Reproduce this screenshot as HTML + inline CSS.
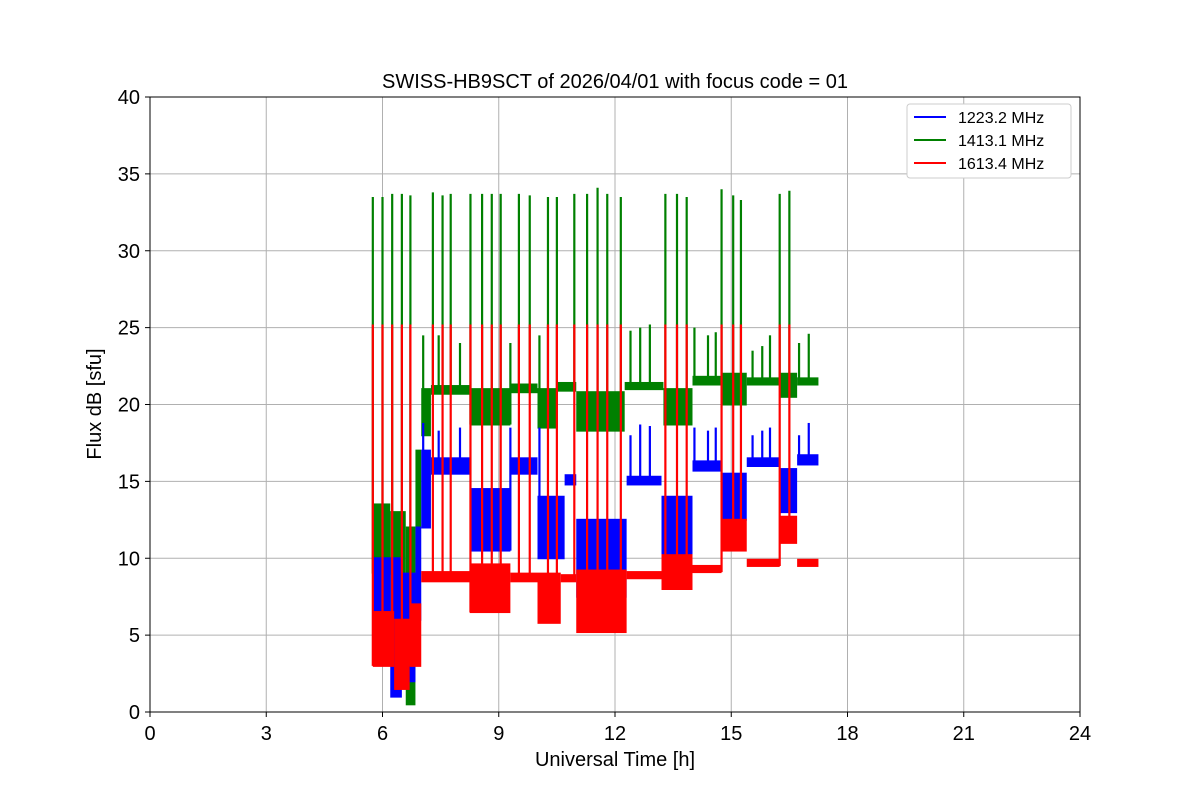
<!DOCTYPE html>
<html><head><meta charset="utf-8">
<style>
body{margin:0;background:#fff;}
svg{display:block;font-family:"Liberation Sans","DejaVu Sans",sans-serif;}
</style></head>
<body>
<svg id="chart" width="1200" height="800">
<rect width="1200" height="800" fill="#fff"/>
<text x="615" y="88" text-anchor="middle" font-size="20">SWISS-HB9SCT of 2026/04/01 with focus code = 01</text>
<g id="grid"></g>
<g id="plot"></g>
<rect x="150" y="97" width="930" height="615" fill="none" stroke="#000" stroke-width="1"/>
<g id="axes"></g>
<text x="615" y="766" text-anchor="middle" font-size="20">Universal Time [h]</text>
<text transform="translate(101,404) rotate(-90)" text-anchor="middle" font-size="20">Flux dB [sfu]</text>
<g>
<rect x="907" y="104" width="164" height="74" rx="3" fill="#fff" stroke="#ccc"/>
<g><line x1="914" y1="117" x2="946" y2="117" stroke="#0000ff" stroke-width="2"/><text x="958" y="123" font-size="16">1223.2 MHz</text></g>
<g><line x1="914" y1="140" x2="946" y2="140" stroke="#008000" stroke-width="2"/><text x="958" y="146" font-size="16">1413.1 MHz</text></g>
<g><line x1="914" y1="163" x2="946" y2="163" stroke="#ff0000" stroke-width="2"/><text x="958" y="169" font-size="16">1613.4 MHz</text></g>
</g>
</svg>
<script>
const xTicks=[0,3,6,9,12,15,18,21,24];
const yTicks=[0,5,10,15,20,25,30,35,40];
// segments: [start h, end h, low, high]
const greenSegs=[[5.75,6.2,9,13.5],[6.2,6.6,6,13],[6.6,6.85,0.5,12],[6.85,7.0,12,17],[7.0,7.25,18,21],[7.25,8.25,20.7,21.2],[8.25,9.3,18.7,21],[9.3,10.0,20.8,21.3],[10.0,10.5,18.5,21],[10.5,11.0,20.9,21.4],[11.0,12.25,18.3,20.8],[12.25,13.25,21,21.4],[13.25,14.0,18.7,21],[14.0,14.75,21.3,21.8],[14.75,15.4,20,22],[15.4,16.25,21.3,21.7],[16.25,16.7,20.5,22],[16.7,17.25,21.3,21.7]];
const blueSegs=[[5.75,6.2,4,10],[6.2,6.5,1,10],[6.5,6.85,2,9],[6.85,7.0,6,12],[7.0,7.25,12,17],[7.25,8.25,15.5,16.5],[8.25,9.3,10.5,14.5],[9.3,10.0,15.5,16.5],[10.0,10.7,10,14],[10.7,11.0,14.8,15.4],[11.0,12.3,7.5,12.5],[12.3,13.2,14.8,15.3],[13.2,14.0,9.8,14],[14.0,14.75,15.7,16.3],[14.75,15.4,12.5,15.5],[15.4,16.25,16,16.5],[16.25,16.7,13,15.8],[16.7,17.25,16.1,16.7]];
const redSegs=[[5.75,6.3,3,6.5],[6.3,6.7,1.5,6],[6.7,7.0,3,7],[7.0,8.25,8.5,9.1],[8.25,9.3,6.5,9.6],[9.3,10.0,8.5,9.0],[10.0,10.6,5.8,9.0],[10.6,11.0,8.5,8.9],[11.0,12.3,5.2,9.2],[12.3,13.2,8.7,9.1],[13.2,14.0,8,10.2],[14.0,14.75,9.1,9.5],[14.75,15.4,10.5,12.5],[15.4,16.25,9.5,9.9],[16.25,16.7,11,12.7],[16.7,17.25,9.5,9.9]];
const bigSpikeTimes=[5.75,6.0,6.25,6.5,6.72,7.3,7.55,7.76,8.27,8.57,8.82,9.05,9.52,9.8,10.27,10.5,10.95,11.28,11.55,11.8,12.15,13.3,13.6,13.85,14.75,15.05,15.25,16.25,16.5];
const bigSpikePeaks=[33.5,33.5,33.7,33.7,33.6,33.8,33.6,33.7,33.7,33.7,33.7,33.7,33.7,33.6,33.5,33.5,33.7,33.7,34.1,33.7,33.5,33.7,33.7,33.5,34.0,33.6,33.3,33.7,33.9];
const redSpikePeak=25.2;
const smallSpikeTimes=[7.05,7.45,8.0,9.3,10.05,12.4,12.65,12.9,14.05,14.4,14.6,15.55,15.8,16.0,16.75,17.0];
const smallSpikeGreen=[24.5,24.5,24,24,24.5,24.8,25,25.2,25,24.5,24.7,23.5,23.8,24.5,24,24.6];
const smallSpikeBlue=[18.8,18.3,18.5,18.5,18.5,18,18.7,18.6,18.5,18.3,18.5,18,18.3,18.5,18,18.8];

const X=h=>150+h*930/24, Y=v=>712-v*615/40;
const NS="http://www.w3.org/2000/svg";
function mk(tag,attrs,parent){const e=document.createElementNS(NS,tag);for(const k in attrs)e.setAttribute(k,attrs[k]);parent.appendChild(e);return e;}
const grid=document.getElementById('grid'),plot=document.getElementById('plot'),axes=document.getElementById('axes');
xTicks.forEach(t=>{
 const g=mk('line',{x1:X(t),x2:X(t),y1:97,y2:712,stroke:'#b0b0b0','stroke-width':1},grid);
 
 
 mk('line',{x1:X(t),x2:X(t),y1:712,y2:717,stroke:'#000'},axes);
 const tx=mk('text',{x:X(t),y:740,'text-anchor':'middle','font-size':20},axes);
 tx.textContent=t;
 
 
});
yTicks.forEach(t=>{
 const g=mk('line',{x1:150,x2:1080,y1:Y(t),y2:Y(t),stroke:'#b0b0b0','stroke-width':1},grid);
 
 
 mk('line',{x1:145,x2:150,y1:Y(t),y2:Y(t),stroke:'#000'},axes);
 const tx=mk('text',{x:140,y:Y(t)+7,'text-anchor':'end','font-size':20},axes);
 tx.textContent=t;
 
 
});
function band(segs,color,name){
 const g=mk('g',{},plot);
 
 
 segs.forEach(s=>{
  const r=mk('rect',{x:X(s[0]),y:Y(s[3])-1,width:X(s[1])-X(s[0]),height:Y(s[2])-Y(s[3])+2,fill:color},g);
  
  
 });
 return g;
}
function spikes(times,peaks,segs,color,name,parent){
 times.forEach((t,i)=>{
  const s=segs.find(q=>t>=q[0]&&t<=q[1])||segs[0];
  const l=mk('line',{x1:X(t),x2:X(t),y1:Y(s[2]),y2:Y(peaks[i]),stroke:color,'stroke-width':2.2},parent);
  
  
 });
}
const gG=band(greenSegs,'#008000','series-1413');
spikes(bigSpikeTimes,bigSpikePeaks,greenSegs,'#008000','spike-1413',gG);
spikes(smallSpikeTimes,smallSpikeGreen,greenSegs,'#008000','spike-1413',gG);
const gB=band(blueSegs,'#0000ff','series-1223');
spikes(smallSpikeTimes,smallSpikeBlue,blueSegs,'#0000ff','spike-1223',gB);
const gR=band(redSegs,'#ff0000','series-1613');
spikes(bigSpikeTimes,bigSpikeTimes.map(()=>redSpikePeak),redSegs,'#ff0000','spike-1613',gR);
</script>
</body></html>
